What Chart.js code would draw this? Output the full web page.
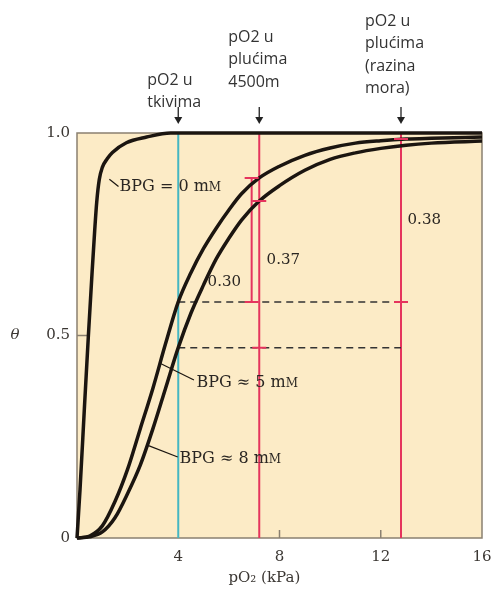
<!DOCTYPE html>
<html>
<head>
<meta charset="utf-8">
<script src="https://cdn.jsdelivr.net/npm/chart.js@4.4.1/dist/chart.umd.min.js"></script>
<style>
body { margin: 0; background: #fff; }
#chart { display: block; }
</style>
</head>
<body>
<canvas id="chart" width="493" height="591"></canvas>
<script>
// values: pO2 in kPa, theta = fractional saturation
const pO2Bpg0 = [0, 0.12, 0.3, 0.45, 0.6, 0.7, 0.78, 0.88, 1.0, 1.2, 1.4, 1.95, 2.75, 3.7, 16];
const thetaBpg0 = [0, 0.12, 0.33, 0.5, 0.66, 0.76, 0.83, 0.885, 0.915, 0.937, 0.952, 0.976, 0.99, 1.0, 1.0];

const pO2Grid = [0, 0.5, 1.0, 1.5, 2.0, 2.5, 3.0, 3.5, 4.0, 4.5, 5.0, 5.5, 6.0, 6.5, 7.2, 8.0, 9.0, 10.0, 11.0, 12.0, 13.0, 14.0, 16.0];
const thetaBpg5 = [0, 0.005, 0.03, 0.09, 0.17, 0.27, 0.37, 0.48, 0.583, 0.655, 0.715, 0.765, 0.81, 0.85, 0.889, 0.918, 0.945, 0.963, 0.975, 0.981, 0.985, 0.987, 0.99];
const thetaBpg8 = [0, 0.003, 0.015, 0.05, 0.11, 0.18, 0.27, 0.37, 0.47, 0.555, 0.625, 0.689, 0.74, 0.785, 0.832, 0.87, 0.908, 0.935, 0.951, 0.962, 0.97, 0.975, 0.98];

const tissuePO2 = 4;
const lungPO2Altitude = 7.2;
const lungPO2Sea = 12.8;
const dashLevels = [0.583, 0.47];
const dashEnds = [12.98, 12.8];
const barX = 6.9;          // the 0.30 bracket
const barRange = [0.583, 0.889];

const xTicks = [4, 8, 12, 16];
const yTicks = [0, 0.5, 1.0];
const xMinorTicks = [8, 12];

const curveLabels = [
  { text: 'BPG = 0 m', from: [1.28, 0.886], to: [1.64, 0.868], at: [1.68, 0.866] },
  { text: 'BPG \u2248 5 m', from: [3.26, 0.432], to: [4.62, 0.39], at: [4.72, 0.383] },
  { text: 'BPG \u2248 8 m', from: [2.75, 0.23], to: [3.98, 0.2], at: [4.05, 0.195] }
];
const diffLabels = [
  { text: '0.30', at: [5.16, 0.632] },
  { text: '0.37', at: [7.49, 0.686] },
  { text: '0.38', at: [13.06, 0.785] }
];
const topLabels = [
  { x: tissuePO2, lines: ['pO2 u', 'tkivima'], top: 80, shift: 31 },
  { x: lungPO2Altitude, lines: ['pO2 u', 'plućima', '4500m'], top: 37, shift: 31 },
  { x: lungPO2Sea, lines: ['pO2 u', 'plućima', '(razina', 'mora)'], top: 21, shift: 36 }
];
// small red cross marks on the red lines
const redCaps = [
  [lungPO2Altitude, dashLevels[1]], [lungPO2Altitude, 0.832],
  [lungPO2Sea, dashLevels[0]], [lungPO2Sea, 0.985],
  [barX, barRange[0]], [barX, barRange[1]]
];

const ink = '#1b1510';
const red = '#e5345d';
const cyan = '#45b6c2';
const serif = '"DejaVu Serif", "Liberation Serif", serif';

function pts(xs, ys) {
  return xs.map((x, i) => ({ x: x, y: ys[i] }));
}

const extras = {
  id: 'extras',
  beforeDraw(chart) {
    const { ctx, chartArea: a } = chart;
    ctx.save();
    ctx.fillStyle = '#fcebc6';
    ctx.fillRect(a.left, a.top, a.right - a.left, a.bottom - a.top);
    ctx.restore();
  },
  beforeDatasetsDraw(chart) {
    const { ctx, chartArea: a, scales } = chart;
    ctx.save();
    ctx.strokeStyle = '#8a8070';
    ctx.lineWidth = 1.5;
    ctx.strokeRect(a.left, a.top, a.right - a.left, a.bottom - a.top);
    ctx.beginPath();
    xMinorTicks.forEach(v => {
      const px = scales.x.getPixelForValue(v);
      ctx.moveTo(px, a.bottom);
      ctx.lineTo(px, a.bottom - 8);
    });
    const py = scales.y.getPixelForValue(0.5);
    ctx.moveTo(a.left, py);
    ctx.lineTo(a.left + 10, py);
    ctx.stroke();
    ctx.restore();
  },
  afterDraw(chart) {
    const { ctx, chartArea: a, scales } = chart;
    const X = v => scales.x.getPixelForValue(v);
    const Y = v => scales.y.getPixelForValue(v);
    ctx.save();

    // red caps
    ctx.strokeStyle = red;
    ctx.lineWidth = 2;
    ctx.beginPath();
    redCaps.forEach(c => {
      ctx.moveTo(X(c[0]) - 7, Y(c[1]));
      ctx.lineTo(X(c[0]) + 7, Y(c[1]));
    });
    ctx.stroke();

    // curve labels with leader lines
    ctx.strokeStyle = ink;
    ctx.lineWidth = 1.2;
    ctx.fillStyle = '#2a2622';
    ctx.textBaseline = 'middle';
    ctx.textAlign = 'left';
    curveLabels.forEach(l => {
      ctx.beginPath();
      ctx.moveTo(X(l.from[0]), Y(l.from[1]));
      ctx.lineTo(X(l.to[0]), Y(l.to[1]));
      ctx.stroke();
      ctx.font = '16px ' + serif;
      const tx = X(l.at[0]), ty = Y(l.at[1]);
      ctx.fillText(l.text, tx, ty);
      const w = ctx.measureText(l.text).width;
      ctx.font = '12px ' + serif;
      ctx.fillText('M', tx + w, ty + 1);
    });

    ctx.font = '15px ' + serif;
    diffLabels.forEach(l => ctx.fillText(l.text, X(l.at[0]), Y(l.at[1])));

    // labels and arrows above the plot
    ctx.font = '16px "Open Sans", sans-serif';
    ctx.fillStyle = '#333';
    topLabels.forEach(l => {
      const px = X(l.x);
      l.lines.forEach((s, i) => ctx.fillText(s, px - l.shift, l.top + i * 22.5));
      ctx.strokeStyle = '#222';
      ctx.lineWidth = 1.3;
      ctx.beginPath();
      ctx.moveTo(px, a.top - 26);
      ctx.lineTo(px, a.top - 14);
      ctx.stroke();
      ctx.fillStyle = '#222';
      ctx.beginPath();
      ctx.moveTo(px - 4, a.top - 16);
      ctx.lineTo(px + 4, a.top - 16);
      ctx.lineTo(px, a.top - 9);
      ctx.closePath();
      ctx.fill();
      ctx.fillStyle = '#333';
    });

    // axis titles
    ctx.fillStyle = '#3a3632';
    ctx.font = 'italic 15px ' + serif;
    ctx.textAlign = 'center';
    ctx.fillText('\u03b8', 15, Y(0.5));
    ctx.font = '15px ' + serif;
    ctx.fillText('pO\u2082 (kPa)', X(7.4), 578);
    ctx.restore();
  }
};

const ctx = document.getElementById('chart').getContext('2d');
new Chart(ctx, {
  type: 'line',
  data: {
    datasets: [
      { data: pts(pO2Bpg0, thetaBpg0), borderColor: ink, borderWidth: 3.5, cubicInterpolationMode: 'monotone', order: 1 },
      { data: pts(pO2Grid, thetaBpg5), borderColor: ink, borderWidth: 3.5, cubicInterpolationMode: 'monotone', order: 1 },
      { data: pts(pO2Grid, thetaBpg8), borderColor: ink, borderWidth: 3.5, cubicInterpolationMode: 'monotone', order: 1 },
      { data: pts([tissuePO2, tissuePO2], [0, 1]), borderColor: cyan, borderWidth: 2, order: 3 },
      { data: pts([lungPO2Altitude, lungPO2Altitude], [0, 1]), borderColor: red, borderWidth: 2, order: 3 },
      { data: pts([lungPO2Sea, lungPO2Sea], [0, 1]), borderColor: red, borderWidth: 2, order: 3 },
      { data: pts([barX, barX], barRange), borderColor: red, borderWidth: 2, order: 3 },
      { data: pts([tissuePO2, dashEnds[0]], [dashLevels[0], dashLevels[0]]), borderColor: '#333', borderWidth: 1.5, borderDash: [7, 5], order: 2 },
      { data: pts([tissuePO2, dashEnds[1]], [dashLevels[1], dashLevels[1]]), borderColor: '#333', borderWidth: 1.5, borderDash: [7, 5], order: 2 }
    ]
  },
  options: {
    responsive: false,
    animation: false,
    clip: false,
    datasets: { line: { pointRadius: 0, fill: false, clip: false } },
    layout: { padding: { top: 133, right: 11, left: 0, bottom: 0 } },
    plugins: { legend: { display: false }, tooltip: { enabled: false } },
    scales: {
      x: {
        type: 'linear', min: 0, max: 16,
        grid: { display: false, drawTicks: false },
        border: { display: false },
        afterBuildTicks: s => { s.ticks = xTicks.map(v => ({ value: v })); },
        afterFit: s => { s.height = 53; s.paddingLeft = 0; s.paddingRight = 0; },
        ticks: { color: '#3a3632', padding: 10, maxRotation: 0, font: { family: serif, size: 15 } }
      },
      y: {
        type: 'linear', min: 0, max: 1,
        grid: { display: false, drawTicks: false },
        border: { display: false },
        afterBuildTicks: s => { s.ticks = yTicks.map(v => ({ value: v })); },
        afterFit: s => { s.width = 77; s.paddingTop = 0; s.paddingBottom = 0; },
        ticks: {
          color: '#3a3632', padding: 7, font: { family: serif, size: 15 },
          callback: v => v === 0 ? '0' : v.toFixed(1)
        }
      }
    }
  },
  plugins: [extras]
});
</script>
</body>
</html>
